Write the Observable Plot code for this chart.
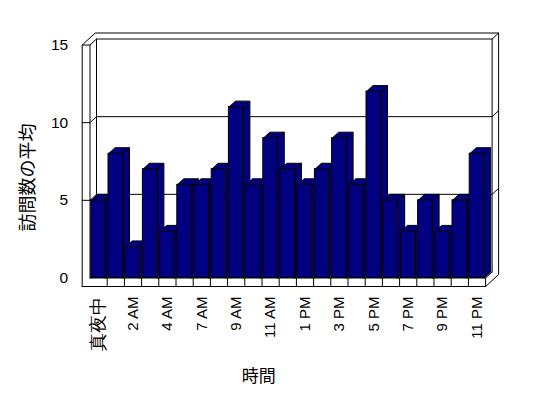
<!DOCTYPE html>
<html><head><meta charset="utf-8">
<script src="https://cdn.jsdelivr.net/npm/d3@7"></script>
<script src="https://cdn.jsdelivr.net/npm/@observablehq/plot@0.6"></script>
<style>body{margin:0;background:#fff}</style>
</head><body><div id="chart"></div>
<script>
// ---- data ----
const hours = ["真夜中","1 AM","2 AM","3 AM","4 AM","5 AM","7 AM","8 AM","9 AM","10 AM","11 AM","12 PM",
               "1 PM","2 PM","3 PM","4 PM","5 PM","6 PM","7 PM","8 PM","9 PM","10 PM","11 PM"];
const visits = [5,8,2,7,3,6,6,7,11,6,9,7,6,7,9,6,12,5,3,5,3,5,8];
const yTicks = [0,5,10,15];
const gridValues = [5,10];
const xTitle = "時間";
const yTitle = "訪問数の平均";

// ---- geometry (pixels -> data units) ----
const n = hours.length, yMax = 15;
const X0 = 89.5, X1 = 485.1, Y0 = 277.5, Y1 = 44.5;
const PX = (X1 - X0) / n, PY = (Y0 - Y1) / yMax;
const DX = 6.5 / PX, DY = 6 / PY;          // one depth step
const LW = -7.8 / PX;                        // outer face of left wall
const FB = -8.5 / PY;                        // bottom of floor slab
const BL = 1.3 / PX, BR = 15.8 / PX;         // bar front face within category

const rows = visits.map((v, i) => ({i, v, label: hours[i]}));

function pushPoly(arr, id, pts, close = true) {
  pts.forEach(p => arr.push({id, x: p[0], y: p[1]}));
  if (close) arr.push({id, x: pts[0][0], y: pts[0][1]});
}

// frame outline (white slab)
const outer = [];
pushPoly(outer, "outer", [[LW, FB], [LW, yMax], [LW + 2*DX, yMax + 2*DY], [n + 2*DX, yMax + 2*DY], [n + 2*DX, FB + 2*DY], [n, FB]]);

// frame lines
const lines = [];
let lid = 0;
const seg = (pts) => pushPoly(lines, "l" + (lid++), pts, false);
seg([[DX, DY], [DX, yMax + DY], [n + DX, yMax + DY], [n + DX, DY]]);   // back wall inner
seg([[0, 0], [0, yMax]]);                                            // left wall inner front edge
seg([[LW, yMax], [0, yMax], [DX, yMax + DY]]);                       // left wall top
seg([[n + DX, yMax + DY], [n + 2*DX, yMax + 2*DY]]);
for (const g of gridValues) {
  seg([[LW, g], [0, g], [DX, g + DY], [n + DX, g + DY], [n + 2*DX, g + 2*DY]]);
}
seg([[0, 0], [n, 0], [n + DX, DY]]);                                 // floor top front edge
for (let k = 1; k <= n; k++) seg([[k, 0], [k, FB]]);                 // floor dividers

// bar faces
const sides = [], tops = [];
rows.forEach(({i, v}) => {
  const xl = i + BL, xr = i + BR;
  pushPoly(sides, "s" + i, [[xr, 0], [xr, v], [xr + DX, v + DY], [xr + DX, DY]]);
  pushPoly(tops, "t" + i, [[xl, v], [xr, v], [xr + DX, v + DY], [xl + DX, v + DY]]);
});

const navy = "#000080";
const latin = "'Liberation Sans', Arial, sans-serif";
const cjk = "'Noto Sans CJK JP', sans-serif";
const labelRows = rows.filter(d => d.i % 2 === 0);

const chart = Plot.plot({
  width: 548, height: 398,
  marginLeft: 0, marginRight: 0, marginTop: 0, marginBottom: 0,
  x: {type: "linear", domain: [0, n], range: [X0, X1], axis: null},
  y: {type: "linear", domain: [0, yMax], range: [Y0, Y1], axis: null},
  style: {background: "#fff", color: "#000", fontFamily: latin},
  marks: [
    Plot.line(outer, {x: "x", y: "y", z: "id", fill: "#fff", stroke: "#000", strokeWidth: 1, strokeLinejoin: "miter"}),
    Plot.line(lines, {x: "x", y: "y", z: "id", stroke: "#000", strokeWidth: 1, strokeLinejoin: "miter"}),
    Plot.line(sides, {x: "x", y: "y", z: "id", fill: navy, stroke: "#000", strokeWidth: 1, strokeLinejoin: "miter"}),
    Plot.line(tops, {x: "x", y: "y", z: "id", fill: navy, stroke: "#000", strokeWidth: 1, strokeLinejoin: "miter"}),
    Plot.rect(rows, {x1: d => d.i + BL, x2: d => d.i + BR, y1: 0, y2: d => d.v, fill: navy, stroke: "#000", strokeWidth: 1}),
    Plot.text(yTicks, {x: LW, y: d => d, text: d => String(d), textAnchor: "end", dx: -14, fontSize: 15.5, fill: "#000"}),
    Plot.text(labelRows, {x: d => d.i + 0.5, y: FB, text: "label", rotate: -90, textAnchor: "end", dy: 10,
      fontSize: d => /[^\x00-\x7F]/.test(d.label) ? 18 : 15, fill: "#000",
      fontFamily: latin}),
    Plot.text([yTitle], {x: LW, y: yMax / 2, text: d => d, rotate: -90, dx: -54, dy: 16, fontSize: 18, fontFamily: cjk, fill: "#000"}),
    Plot.text([xTitle], {x: n / 2, y: FB, text: d => d, dx: -29, dy: 90, fontSize: 17, fontFamily: cjk, fill: "#000"})
  ]
});
document.getElementById("chart").appendChild(chart);
</script>
</body></html>
